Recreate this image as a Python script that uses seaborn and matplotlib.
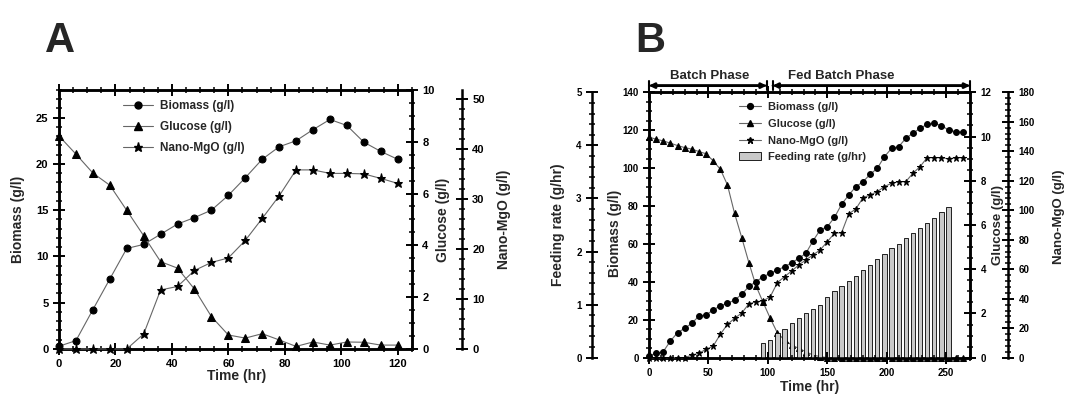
import numpy as np
import pandas as pd
import matplotlib
matplotlib.use('Agg')
import matplotlib.pyplot as plt
import seaborn as sns
from matplotlib.ticker import MultipleLocator
from matplotlib.patches import Patch
from matplotlib.lines import Line2D

sns.set_style('ticks')
plt.rcParams['font.family'] = ['Liberation Sans', 'DejaVu Sans']
plt.rcParams['font.weight'] = 'bold'
plt.rcParams['axes.labelweight'] = 'bold'
plt.rcParams['axes.edgecolor'] = 'black'
plt.rcParams['xtick.color'] = 'black'
plt.rcParams['ytick.color'] = 'black'

# ---- Panel A data (batch culture) ----
time_a = [0, 6, 12, 18, 24, 30, 36, 42, 48, 54, 60, 66, 72, 78, 84, 90, 96, 102, 108, 114, 120]
biomass_a = [0.3, 0.9, 4.25, 7.56, 10.86, 11.3, 12.4, 13.5, 14.2, 15.0, 16.6, 18.5, 20.5,
             21.85, 22.5, 23.7, 24.8, 24.15, 22.35, 21.35, 20.5]
glucose_a = [8.22, 7.52, 6.79, 6.32, 5.35, 4.37, 3.37, 3.12, 2.31, 1.25, 0.54, 0.42, 0.59,
             0.35, 0.1, 0.27, 0.15, 0.27, 0.26, 0.15, 0.15]
nano_a = [0, 0, 0, 0, 0, 3.0, 11.8, 12.5, 15.7, 17.3, 18.2, 21.7, 26.1, 30.6, 35.8, 35.8,
          35.1, 35.1, 35.0, 34.1, 33.1]

# ---- Panel B data (batch + fed batch) ----
time_b = [0, 6, 12, 18, 24, 30, 36, 42, 48, 54, 60, 66, 72, 78, 84, 90, 96, 102, 108, 114,
          120, 126, 132, 138, 144, 150, 156, 162, 168, 174, 180, 186, 192, 198, 204, 210,
          216, 222, 228, 234, 240, 246, 252, 258, 264]
biomass_b = [1.05, 2.3, 3.2, 8.8, 13.2, 15.5, 18.1, 22.0, 22.5, 25.2, 27.4, 28.7, 30.4, 33.4,
             37.6, 40.1, 42.7, 44.5, 46.3, 48.0, 50.1, 52.4, 55.1, 61.7, 67.4, 69.1, 74.0,
             80.9, 85.8, 90.2, 92.8, 96.7, 99.9, 106.0, 110.4, 111.3, 115.7, 118.4, 121.0,
             123.1, 123.6, 122.4, 120.1, 119.2, 118.9]
glucose_b = [9.97, 9.88, 9.8, 9.7, 9.59, 9.5, 9.43, 9.32, 9.22, 8.9, 8.52, 7.81, 6.52, 5.43,
             4.3, 3.25, 2.5, 1.78, 1.12, 0.8, 0.57, 0.42, 0.27, 0.12, 0.05, 0, 0, 0, 0, 0,
             0, 0, 0, 0, 0, 0, 0, 0, 0, 0, 0, 0, 0, 0, 0]
nano_b = [0, 0, 0, 0, 0, 0, 1.8, 3.0, 5.7, 7.9, 15.9, 22.6, 26.7, 30.3, 36.5, 38.0, 38.5,
          41.4, 50.9, 55.0, 58.8, 62.9, 66.3, 69.7, 73.1, 78.7, 84.4, 84.8, 97.5, 100.9,
          108.5, 110.4, 112.6, 116.0, 118.3, 119.4, 119.4, 125.1, 129.6, 135.7, 135.7,
          135.7, 134.8, 135.7, 135.7]
feed_time = [96, 102, 108, 114, 120, 126, 132, 138, 144, 150, 156, 162, 168, 174, 180, 186,
             192, 198, 204, 210, 216, 222, 228, 234, 240, 246, 252]
feed_rate = [0.27, 0.33, 0.46, 0.55, 0.65, 0.74, 0.84, 0.92, 1.0, 1.15, 1.25, 1.35, 1.45,
             1.54, 1.65, 1.75, 1.86, 1.95, 2.06, 2.15, 2.26, 2.35, 2.45, 2.54, 2.64, 2.74, 2.84]

LINE_C = '#666666'
BAR_C = '#c8c8c8'
LABEL_FS = 10
SPINE_W = 1.8


def style_y(ax, side, major, minor, fs):
    ax.yaxis.set_major_locator(MultipleLocator(major))
    ax.yaxis.set_minor_locator(MultipleLocator(minor))
    ax.tick_params(axis='y', which='major', direction='inout', length=8, width=1.4,
                   labelsize=fs, left=(side == 'left'), right=(side == 'right'),
                   labelleft=(side == 'left'), labelright=(side == 'right'))
    ax.tick_params(axis='y', which='minor', direction='inout', length=4.5, width=1.1,
                   left=(side == 'left'), right=(side == 'right'))
    for s in ax.spines.values():
        s.set_linewidth(SPINE_W)


def style_x(ax, major, minor, fs):
    ax.xaxis.set_major_locator(MultipleLocator(major))
    ax.xaxis.set_minor_locator(MultipleLocator(minor))
    ax.tick_params(axis='x', which='major', direction='inout', length=8, width=1.4,
                   labelsize=fs, top=True, bottom=True)
    ax.tick_params(axis='x', which='minor', direction='inout', length=4.5, width=1.1,
                   top=True, bottom=True)


def only_spine(ax, keep):
    for name, s in ax.spines.items():
        s.set_visible(name == keep)


def series(ax, x, y, marker, ms):
    sns.lineplot(x=x, y=y, ax=ax, color=LINE_C, linewidth=0.8, marker=marker,
                 markersize=ms, markerfacecolor='black', markeredgecolor='black',
                 legend=False, clip_on=False, zorder=3)


fig = plt.figure(figsize=(10.69, 3.95), dpi=100)
fig.patch.set_facecolor('white')

# ================= Panel A =================
axA = fig.add_axes([0.0552, 0.1165, 0.330, 0.656])
axA_g = axA.twinx()
axA_n = axA.twinx()
for a in (axA, axA_g, axA_n):
    a.patch.set_visible(False)

series(axA, time_a, biomass_a, 'o', 5)
series(axA_g, time_a, glucose_a, '^', 5.5)
series(axA_n, time_a, nano_a, '*', 6.5)

axA.set_xlim(0, 125)
axA.set_ylim(0, 28)
axA_g.set_ylim(0, 10)
axA_n.set_ylim(0, 51.8)

style_x(axA, 20, 5, 8)
style_y(axA, 'left', 5, 1, 8)
style_y(axA_g, 'right', 2, 0.5, 8)
style_y(axA_n, 'right', 10, 2, 8)
only_spine(axA_n, 'right')
axA_n.spines['right'].set_position(('outward', 36))

axA.set_xlabel('Time (hr)', fontsize=LABEL_FS)
axA.xaxis.set_label_coords(0.504, -0.077)
axA.set_ylabel('Biomass (g/l)', fontsize=LABEL_FS)
axA.yaxis.set_label_coords(-0.096, 0.5)
axA_g.set_ylabel('Glucose (g/l)', fontsize=LABEL_FS)
axA_g.yaxis.set_label_coords(1.068, 0.5)
axA_n.set_ylabel('Nano-MgO (g/l)', fontsize=LABEL_FS)
axA_n.yaxis.set_label_coords(1.241, 0.5)

handles_a = [
    Line2D([], [], color=LINE_C, lw=0.8, marker='o', ms=5, mfc='black', mec='black'),
    Line2D([], [], color=LINE_C, lw=0.8, marker='^', ms=5.5, mfc='black', mec='black'),
    Line2D([], [], color=LINE_C, lw=0.8, marker='*', ms=6.5, mfc='black', mec='black'),
]
axA_n.legend(handles_a, ['Biomass (g/l)', 'Glucose (g/l)', 'Nano-MgO (g/l)'],
             loc='upper left', bbox_to_anchor=(0.15, 1.0), frameon=False,
             fontsize=8.5, handlelength=2.6, labelspacing=0.75, handletextpad=0.6)

# ================= Panel B =================
axB = fig.add_axes([0.6071, 0.0944, 0.3003, 0.672])
axB_g = axB.twinx()
axB_f = axB.twinx()
axB_n = axB.twinx()
axB_g.set_zorder(1)
axB_f.set_zorder(2)
axB.set_zorder(3)
axB_n.set_zorder(4)
for a in (axB, axB_g, axB_f, axB_n):
    a.patch.set_visible(False)

sns.barplot(x=feed_time, y=feed_rate, ax=axB_f, native_scale=True, width=0.6,
            color=BAR_C, saturation=1, edgecolor='black', linewidth=0.6, errorbar=None)
series(axB_g, time_b, glucose_b, '^', 4.2)
series(axB, time_b, biomass_b, 'o', 4.2)
series(axB_n, time_b, nano_b, '*', 5)

axB.set_xlim(0, 270)
axB.set_ylim(0, 140)
axB_g.set_ylim(0, 12)
axB_f.set_ylim(0, 5)
axB_n.set_ylim(0, 180)

style_x(axB, 50, 10, 7)
style_y(axB, 'left', 20, 5, 7)
style_y(axB_g, 'right', 2, 0.5, 7)
style_y(axB_f, 'left', 1, 0.2, 7)
style_y(axB_n, 'right', 20, 4, 7)
axB_f.yaxis.set_label_position('left')
only_spine(axB_f, 'left')
axB_f.spines['left'].set_position(('outward', 41))
only_spine(axB_n, 'right')
axB_n.spines['right'].set_position(('outward', 27.5))

axB.set_xlabel('Time (hr)', fontsize=LABEL_FS)
axB.xaxis.set_label_coords(0.50, -0.084)
axB.set_ylabel('Biomass (g/l)', fontsize=LABEL_FS)
axB.yaxis.set_label_coords(-0.085, 0.47)
axB_f.set_xlabel('')
axB_f.set_ylabel('Feeding rate (g/hr)', fontsize=LABEL_FS)
axB_f.yaxis.set_label_coords(-0.263, 0.5)
axB_g.set_ylabel('Glucose (g/l)', fontsize=9.5)
axB_g.yaxis.set_label_coords(1.068, 0.5)
axB_n.set_ylabel('Nano-MgO (g/l)', fontsize=9.5)
axB_n.yaxis.set_label_coords(1.260, 0.53)

handles_b = [
    Line2D([], [], color=LINE_C, lw=0.8, marker='o', ms=4.2, mfc='black', mec='black'),
    Line2D([], [], color=LINE_C, lw=0.8, marker='^', ms=4.2, mfc='black', mec='black'),
    Line2D([], [], color=LINE_C, lw=0.8, marker='*', ms=5, mfc='black', mec='black'),
    Patch(facecolor=BAR_C, edgecolor='black', linewidth=0.6),
]
axB_n.legend(handles_b, ['Biomass (g/l)', 'Glucose (g/l)', 'Nano-MgO (g/l)',
                         'Feeding rate (g/hr)'],
             loc='upper left', bbox_to_anchor=(0.25, 1.0), frameon=False,
             fontsize=8, handlelength=2.0, labelspacing=0.6, handletextpad=0.6)

# phase annotation above panel B
trans = axB.get_xaxis_transform()
for x0, x1 in [(0, 99), (104, 270)]:
    axB.annotate('', xy=(x1, 1.025), xytext=(x0, 1.025), xycoords=trans, textcoords=trans,
                 annotation_clip=False,
                 arrowprops=dict(arrowstyle='<|-|>', lw=2, color='black',
                                 mutation_scale=7, shrinkA=0, shrinkB=0))
    axB.annotate('', xy=(x1, 1.025), xytext=(x0, 1.025), xycoords=trans, textcoords=trans,
                 annotation_clip=False,
                 arrowprops=dict(arrowstyle='|-|, widthA=0.35, widthB=0.35', lw=1.5,
                                 color='black', shrinkA=0, shrinkB=0))
axB.text(51, 1.062, 'Batch Phase', transform=trans, ha='center', va='center',
         fontsize=9.5, fontweight='bold')
axB.text(162, 1.062, 'Fed Batch Phase', transform=trans, ha='center', va='center',
         fontsize=9.5, fontweight='bold')

# panel letters
fig.text(0.056, 0.895, 'A', fontsize=30, fontweight='bold', ha='center', va='center',
         family=['Liberation Sans Narrow', 'Liberation Sans', 'DejaVu Sans'])
fig.text(0.608, 0.895, 'B', fontsize=30, fontweight='bold', ha='center', va='center',
         family=['Liberation Sans Narrow', 'Liberation Sans', 'DejaVu Sans'])

fig.savefig('out.png', dpi=100)
